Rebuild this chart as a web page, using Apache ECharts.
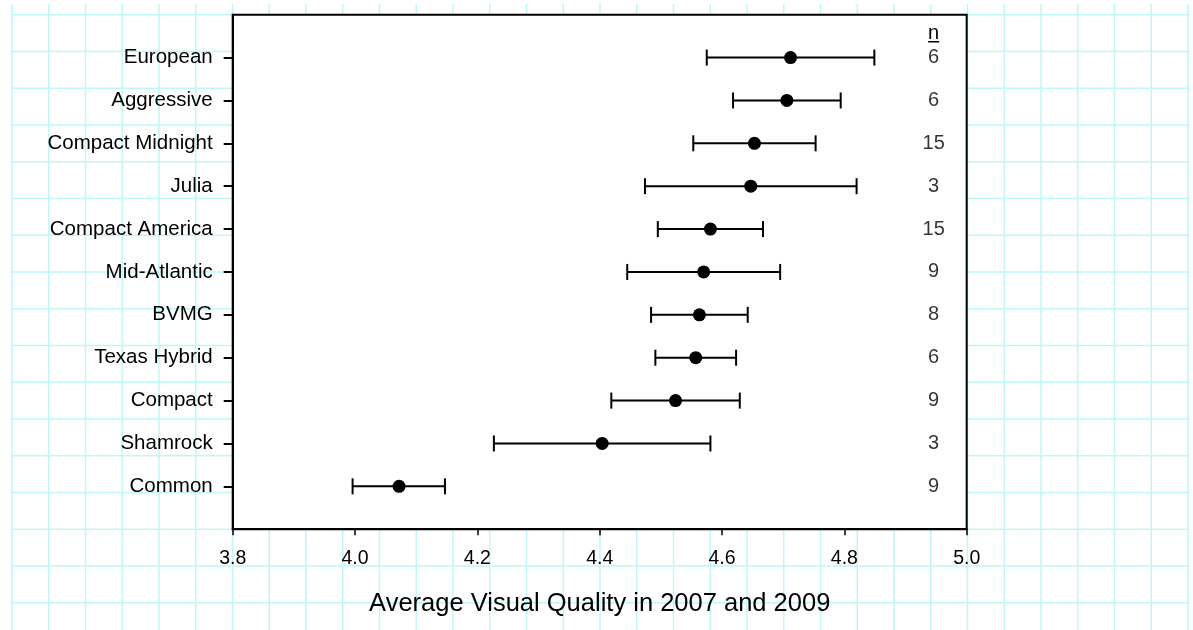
<!DOCTYPE html>
<html>
<head>
<meta charset="utf-8">
<title>Average Visual Quality in 2007 and 2009</title>
<script src="https://cdn.jsdelivr.net/npm/echarts@6/dist/echarts.min.js"></script>
<style>
  html, body { margin: 0; padding: 0; background: #ffffff; }
  #chart { width: 1193px; height: 630px; }
</style>
</head>
<body>
<div id="chart"></div>
<script>
// Cultivars, top to bottom
const categories = ['European', 'Aggressive', 'Compact Midnight', 'Julia', 'Compact America',
  'Mid-Atlantic', 'BVMG', 'Texas Hybrid', 'Compact', 'Shamrock', 'Common'];
// Mean rating and interval limits
const means = [4.712, 4.706, 4.653, 4.647, 4.581, 4.570, 4.563, 4.557, 4.524, 4.404, 4.072];
const lows  = [4.575, 4.618, 4.553, 4.474, 4.495, 4.445, 4.484, 4.491, 4.419, 4.227, 3.996];
const highs = [4.849, 4.794, 4.753, 4.820, 4.667, 4.695, 4.642, 4.623, 4.629, 4.581, 4.147];
// Number of observations per cultivar
const counts = [6, 6, 15, 3, 15, 9, 8, 6, 9, 3, 9];
// X axis tick values
const xTicks = [3.8, 4.0, 4.2, 4.4, 4.6, 4.8, 5.0];

const FONT = "'Liberation Sans', Arial, sans-serif";
const N_COL_X = 4.946;          // column holding the n counts
const rowIndex = categories.map((_, i) => i + 1);

// graph-paper backdrop
const paper = [];
const CELL = 36.75, PX0 = 12, PY0 = 14.7;
for (let k = 0; k <= 32; k++) {
  const x = PX0 + k * CELL;
  paper.push({ type: 'line', silent: true, z: -10,
    shape: { x1: x, y1: 4, x2: x, y2: 630 },
    style: { stroke: '#bff7f7', lineWidth: 1.5 } });
}
for (let k = 0; k <= 16; k++) {
  const y = PY0 + k * CELL;
  paper.push({ type: 'line', silent: true, z: -10,
    shape: { x1: PX0, y1: y, x2: PX0 + 32 * CELL + 1, y2: y },
    style: { stroke: '#bff7f7', lineWidth: 1.5 } });
}

const chart = echarts.init(document.getElementById('chart'));

const option = {
  animation: false,
  graphic: { elements: paper },
  grid: {
    left: 232.7, right: 226.3, top: 14.7, height: 514.5,
    show: true, backgroundColor: '#ffffff', borderColor: '#000000', borderWidth: 2
  },
  xAxis: {
    type: 'value', min: 3.8, max: 5.0, interval: 0.2, position: 'bottom',
    axisLine: { show: true, onZero: false, lineStyle: { color: '#000', width: 2 } },
    axisTick: { show: true, length: 6, customValues: xTicks, lineStyle: { color: '#000', width: 1.5 } },
    axisLabel: {
      customValues: xTicks, margin: 19, color: '#000', fontFamily: FONT, fontSize: 19.5,
      formatter: v => v.toFixed(1)
    },
    splitLine: { show: false },
    name: 'Average Visual Quality in 2007 and 2009',
    nameLocation: 'middle', nameGap: 62,
    nameTextStyle: { color: '#000', fontFamily: FONT, fontSize: 25.5 }
  },
  yAxis: {
    type: 'value', min: 0, max: 12, interval: 1, inverse: true,
    axisLine: { show: true, onZero: false, lineStyle: { color: '#000', width: 2 } },
    axisTick: { show: true, length: 9, customValues: rowIndex, lineStyle: { color: '#000', width: 2 } },
    axisLabel: {
      customValues: rowIndex, margin: 20, color: '#000', fontFamily: FONT, fontSize: 20.5,
      formatter: v => categories[Math.round(v) - 1] || ''
    },
    splitLine: { show: false }
  },
  series: [
    {
      // interval whiskers with end caps
      type: 'custom',
      z: 3,
      data: categories.map((_, i) => [lows[i], highs[i], i + 1]),
      renderItem: function (params, api) {
        const a = api.coord([api.value(0), api.value(2)]);
        const b = api.coord([api.value(1), api.value(2)]);
        const h = 8;
        const st = { stroke: '#000', lineWidth: 2 };
        return {
          type: 'group',
          children: [
            { type: 'line', shape: { x1: a[0], y1: a[1], x2: b[0], y2: b[1] }, style: st },
            { type: 'line', shape: { x1: a[0], y1: a[1] - h, x2: a[0], y2: a[1] + h }, style: st },
            { type: 'line', shape: { x1: b[0], y1: b[1] - h, x2: b[0], y2: b[1] + h }, style: st }
          ]
        };
      }
    },
    {
      // means
      type: 'scatter',
      z: 4,
      symbol: 'circle',
      symbolSize: 13,
      itemStyle: { color: '#000', opacity: 1 },
      data: categories.map((_, i) => [means[i], i + 1])
    },
    {
      // n counts column
      type: 'scatter',
      z: 4,
      symbolSize: 0,
      data: categories.map((_, i) => [N_COL_X, i + 1, counts[i]]),
      label: {
        show: true, position: 'inside', offset: [0, 0],
        color: '#000', fontFamily: FONT, fontSize: 20,
        formatter: p => String(p.value[2])
      }
    },
    {
      // underlined column header
      type: 'custom',
      z: 4,
      data: [[N_COL_X, 0.5]],
      renderItem: function (params, api) {
        const p = api.coord([api.value(0), api.value(1)]);
        return {
          type: 'group',
          children: [
            { type: 'text', style: { text: 'n', x: p[0], y: p[1] - 3, align: 'center',
                verticalAlign: 'middle', font: '20px ' + FONT, fill: '#000' } },
            { type: 'line', shape: { x1: p[0] - 5.5, y1: p[1] + 5.6, x2: p[0] + 5.5, y2: p[1] + 5.6 },
              style: { stroke: '#000', lineWidth: 1.5 } }
          ]
        };
      }
    }
  ]
};

chart.setOption(option);
</script>
</body>
</html>
